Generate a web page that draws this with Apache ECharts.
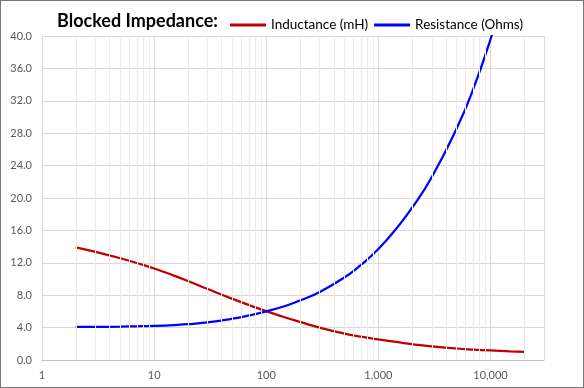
<!DOCTYPE html>
<html>
<head>
<meta charset="utf-8">
<script src="https://cdn.jsdelivr.net/npm/echarts@6/dist/echarts.min.js"></script>
<style>
  html, body { margin: 0; padding: 0; background: #fff; }
  #wrap { position: relative; width: 584px; height: 388px; }
  #chart { position: absolute; left: 0; top: 0; width: 584px; height: 388px; }
  #frame { position: absolute; left: 0; top: 0; width: 584px; height: 388px; box-sizing: border-box; border: 1px solid #767676; pointer-events: none; }
</style>
</head>
<body>
<div id="wrap"><div id="chart"></div><div id="frame"></div></div>
<script>
// Frequency (Hz) sample points
const frequency = [2, 3, 5, 7, 10, 15, 20, 30, 50, 70, 100, 150, 200, 300, 500, 700, 1000, 1500, 2000, 3000, 5000, 7000, 10000, 15000, 20000];
// Inductance (mH)
const inductance = [13.9, 13.34, 12.56, 11.98, 11.3, 10.42, 9.76, 8.77, 7.55, 6.79, 6.03, 5.22, 4.7, 4.0, 3.25, 2.88, 2.55, 2.2, 1.95, 1.68, 1.42, 1.29, 1.18, 1.07, 1.0];
// Resistance (Ohms)
const resistance = [4.08, 4.09, 4.12, 4.16, 4.22, 4.32, 4.42, 4.65, 5.1, 5.5, 6.0, 6.7, 7.35, 8.4, 10.2, 11.75, 13.7, 16.5, 18.8, 22.6, 28.6, 33.4, 39.6, 47.7, 54.2];
// Axis settings
const xMin = 1, xMax = 30000;
const yMin = 0, yMax = 40, yStep = 4;
const seriesNames = ['Inductance (mH)', 'Resistance (Ohms)'];
const titleText = 'Blocked Impedance:';

// minor gridline values (2..9 of each decade)
const minorGrid = [];
for (let d = 1; d <= 10000; d *= 10) {
  for (let m = 2; m <= 9; m++) {
    const v = m * d;
    if (v < xMax) minorGrid.push(v);
  }
}

const chart = echarts.init(document.getElementById('chart'), null, { renderer: 'canvas' });
const FONT = 'Lato';

function isPow10(v) {
  const l = Math.log10(v);
  return Math.abs(l - Math.round(l)) < 1e-6;
}

chart.setOption({
  animation: false,
  backgroundColor: '#ffffff',
  title: {
    text: titleText,
    left: 52, top: 7,
    textStyle: { fontFamily: FONT, fontSize: 18, fontWeight: 'bold', color: '#000000' }
  },
  legend: {
    data: seriesNames,
    left: 225, top: 13,
    itemWidth: 36, itemHeight: 3, itemGap: 6,
    icon: 'rect',
    textStyle: { fontFamily: FONT, fontSize: 13.5, color: '#000000' }
  },
  grid: { left: 42, right: 40, top: 36, bottom: 28, containLabel: false },
  xAxis: {
    type: 'log', logBase: 10, min: xMin, max: xMax,
    axisLine: { show: true, lineStyle: { color: '#bfbfbf', width: 1 } },
    axisTick: { show: false },
    axisLabel: {
      fontFamily: FONT, fontSize: 11, color: '#595959', margin: 10,
      showMaxLabel: false,
      formatter: v => isPow10(v) ? Math.round(v).toLocaleString('en-US') : ''
    },
    splitLine: { show: true, lineStyle: { color: '#d9d9d9', width: 1 } }
  },
  yAxis: {
    type: 'value', min: yMin, max: yMax, interval: yStep,
    axisLine: { show: false },
    axisTick: { show: false },
    axisLabel: { fontFamily: FONT, fontSize: 11, color: '#595959', margin: 10, formatter: v => v.toFixed(1) },
    splitLine: { show: true, lineStyle: { color: '#d9d9d9', width: 1 } }
  },
  series: [
    {
      name: '__minor', type: 'line', data: [[xMin, yMin]], symbol: 'none', z: 1, silent: true,
      lineStyle: { opacity: 0 },
      markLine: {
        silent: true, symbol: ['none', 'none'], animation: false,
        label: { show: false },
        lineStyle: { color: '#ebebeb', type: 'solid', width: 1 },
        emphasis: { disabled: true },
        data: minorGrid.map(v => ({ xAxis: v }))
      }
    },
    {
      name: seriesNames[0], type: 'line', symbol: 'none', smooth: 0.5, z: 3,
      color: '#c00000',
      lineStyle: { color: '#c00000', width: 2.25 },
      data: frequency.map((f, i) => [f, inductance[i]])
    },
    {
      name: seriesNames[1], type: 'line', symbol: 'none', smooth: 0.5, z: 4,
      color: '#0000ff',
      lineStyle: { color: '#0000ff', width: 2.25 },
      data: frequency.map((f, i) => [f, resistance[i]])
    }
  ]
});
</script>
</body>
</html>
